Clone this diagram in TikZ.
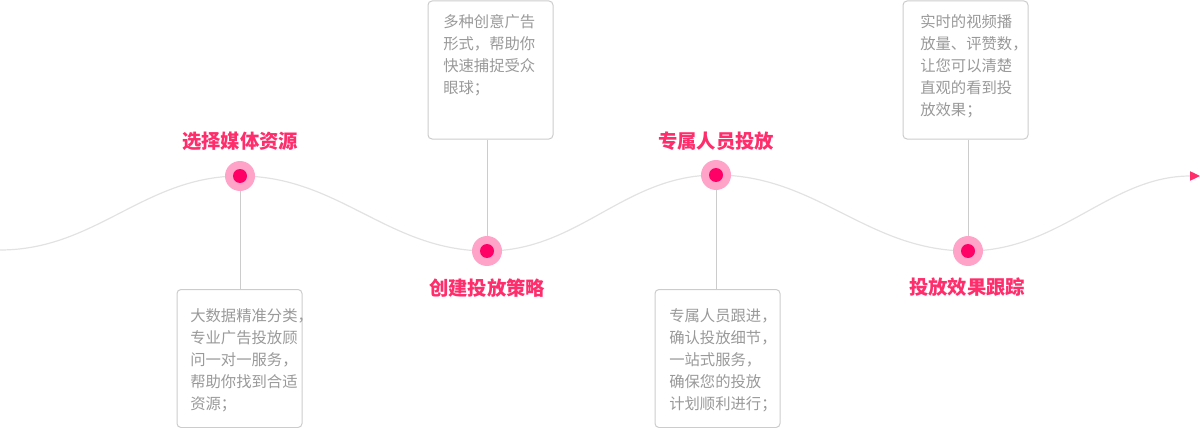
\documentclass[tikz,border=0pt]{standalone}
\usepackage{fontspec}
\newfontfamily\cjk{Noto Sans CJK SC}
\usetikzlibrary{arrows.meta}

\definecolor{dotred}{HTML}{FF0066}
\definecolor{dotpink}{HTML}{FFA3C8}
\definecolor{titlered}{HTML}{FF2D6B}
\definecolor{wavegray}{HTML}{E2E2E2}
\definecolor{boxgray}{HTML}{CCCCCC}
\definecolor{textgray}{HTML}{999999}

\tikzstyle{dot}=[circle, fill=dotpink, minimum size=22.5pt, inner sep=0pt, path picture={\fill[dotred] (path picture bounding box.center) circle (5.25pt);}]
\tikzstyle{title}=[inner sep=0pt, text=titlered, font=\cjk\bfseries\fontsize{14.5}{17}\selectfont]
\tikzstyle{card}=[draw=boxgray, rounded corners=3pt, minimum width=93.75pt, minimum height=103.5pt, inner sep=0pt, anchor=north west, line width=0.75pt]
\tikzstyle{cardtext}=[inner sep=0pt, anchor=north west, align=left, text=textgray, font=\cjk\fontsize{11.5}{16.5}\selectfont]
\tikzstyle{stem}=[draw=boxgray, line width=0.75pt]

\begin{document}
\begin{tikzpicture}[x=0.75pt, y=-0.75pt]
\useasboundingbox (0,0) rectangle (1200,428);

\coordinate (p0) at (0,250);
\coordinate (p1) at (240,176);
\coordinate (p2) at (487,251);
\coordinate (p3) at (716,175);
\coordinate (p4) at (968,251);
\coordinate (p5) at (1200,176);

% wave
\draw[wavegray, line width=0.9pt, -{Triangle[length=7.5pt, width=7pt, color=titlered]}]
  (p0) .. controls (96,250) and (144,176) .. (p1)
  .. controls (339,176) and (388,251) .. (p2)
  .. controls (579,251) and (624,175) .. (p3)
  .. controls (817,175) and (867,251) .. (p4)
  .. controls (1060,251) and (1110,176) .. (p5);

\node[card] (b1) at (176.5,289) {};
\node[card] (b2) at (427.5,0.5) {};
\node[card] (b3) at (654.5,289) {};
\node[card] (b4) at (902.5,0.5) {};

\node[dot] (d1) at (p1) {};
\node[dot] (d2) at (p2) {};
\node[dot] (d3) at (p3) {};
\node[dot] (d4) at (p4) {};

\draw[stem] (d1) -- (d1 |- b1.north);
\draw[stem] (d2 |- b2.south) -- (d2);
\draw[stem] (d3) -- (d3 |- b3.north);
\draw[stem] (d4 |- b4.south) -- (d4);

\node[title] (l1) at (240,141) {选择媒体资源};
\node[title] (l2) at (487,288) {创建投放策略};
\node[title] (l3) at (716,141) {专属人员投放};
\node[title] (l4) at (967,287) {投放效果跟踪};

\node[cardtext] (t1) at (190,308) {大数据精准分类，\\专业广告投放顾\\问一对一服务，\\帮助你找到合适\\资源；};
\node[cardtext] (t2) at (443,14) {多种创意广告\\形式，帮助你\\快速捕捉受众\\眼球；};
\node[cardtext] (t3) at (669,308) {专属人员跟进，\\确认投放细节，\\一站式服务，\\确保您的投放\\计划顺利进行；};
\node[cardtext] (t4) at (920,14) {实时的视频播\\放量、评赞数，\\让您可以清楚\\直观的看到投\\放效果；};
\end{tikzpicture}
\end{document}
